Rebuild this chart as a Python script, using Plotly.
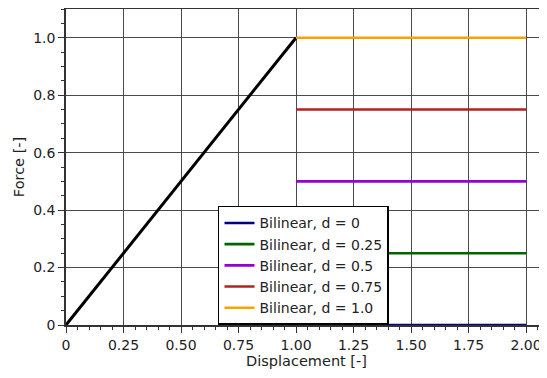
import plotly.graph_objects as go

# Data
elastic_x = [0.0, 1.0]
elastic_y = [0.0, 1.0]
plateau_x = [1.0, 2.0]
d_values = [0, 0.25, 0.5, 0.75, 1.0]
d_labels = ["Bilinear, d = 0", "Bilinear, d = 0.25", "Bilinear, d = 0.5",
            "Bilinear, d = 0.75", "Bilinear, d = 1.0"]
colors = ["#000080", "#006400", "#9400d3", "#b22222", "#f5a300"]
x_ticks = [0, 0.25, 0.5, 0.75, 1.0, 1.25, 1.5, 1.75, 2.0]
x_tick_labels = ["0", "0.25", "0.50", "0.75", "1.00", "1.25", "1.50", "1.75", "2.00"]
y_ticks = [0, 0.2, 0.4, 0.6, 0.8, 1.0]
y_tick_labels = ["0", "0.2", "0.4", "0.6", "0.8", "1.0"]

fig = go.Figure()
fig.add_trace(go.Scatter(x=elastic_x, y=elastic_y, mode="lines",
                         line=dict(color="black", width=3), showlegend=False))
for d, lab, c in zip(d_values, d_labels, colors):
    fig.add_trace(go.Scatter(x=plateau_x, y=[d, d], mode="lines", name=lab,
                             line=dict(color=c, width=2.6), cliponaxis=False))

axis_common = dict(
    showgrid=True, gridcolor="#4a4a4a", gridwidth=1,
    showline=True, linecolor="#333333", linewidth=1.5,
    ticks="outside", ticklen=6, tickcolor="#333333", tickwidth=1,
    zeroline=False, automargin=False,
    minor=dict(ticks="outside", ticklen=3, tickcolor="#333333", dtick=0.05, showgrid=False),
    tickfont=dict(size=14, color="#222222"),
)

fig.update_layout(
    width=539, height=370,
    margin=dict(l=58, r=0, t=1, b=53),
    paper_bgcolor="white", plot_bgcolor="white",
    font=dict(family="DejaVu Sans", size=14, color="#222222"),
    xaxis=dict(range=[0, 2.091], tickvals=x_ticks, ticktext=x_tick_labels, mirror=True,
               title=dict(text="Displacement [-]", standoff=4, font=dict(size=14.5)), **axis_common),
    yaxis=dict(range=[0, 1.1], tickvals=y_ticks, ticktext=y_tick_labels, mirror=False,
               title=dict(text="Force [-]", standoff=5, font=dict(size=14.5)), **axis_common),
    legend=dict(x=0.316, y=0.377, xanchor="left", yanchor="top",
                bgcolor="white", bordercolor="black", borderwidth=1.5,
                font=dict(size=14), tracegroupgap=0, itemwidth=30),
)

fig.write_html("out.html")
